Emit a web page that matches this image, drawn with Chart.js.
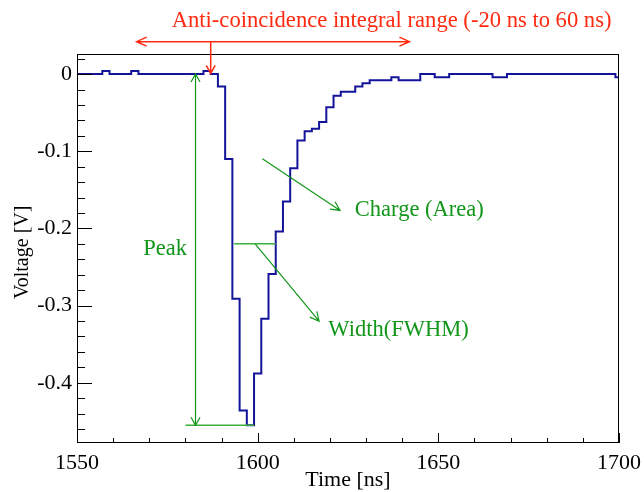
<!DOCTYPE html>
<html>
<head>
<meta charset="utf-8">
<title>PMT waveform</title>
<script src="https://cdn.jsdelivr.net/npm/chart.js@4.4.1/dist/chart.umd.min.js"></script>
<style>
  body { margin: 0; background: #fff; }
  #wrap { width: 644px; height: 492px; }
</style>
</head>
<body>
<div id="wrap"><canvas id="waveChart" width="644" height="492"></canvas></div>
<script>
// Digitised waveform: each level holds from its time up to the next time
const stepTimes = [1550, 1557, 1559, 1565, 1567, 1585, 1587, 1589, 1591, 1593,
                   1595, 1597, 1599, 1601, 1603, 1605, 1607, 1609, 1611, 1613,
                   1615, 1617, 1619, 1621, 1623, 1627, 1629, 1631, 1637, 1639,
                   1645, 1649, 1653, 1665, 1669, 1699, 1700];
const stepVolts = [0, 0.004, 0, 0.004, 0, 0.004, 0, -0.016, -0.110, -0.291,
                   -0.436, -0.455, -0.388, -0.317, -0.259, -0.204, -0.165, -0.122, -0.086, -0.074,
                   -0.071, -0.062, -0.043, -0.028, -0.023, -0.016, -0.012, -0.008, -0.004, -0.008,
                   0, -0.004, 0, -0.004, 0, -0.004, -0.004];

const xTicks = [1550, 1600, 1650, 1700];
const yTicks = [0, -0.1, -0.2, -0.3, -0.4];

const peakVolt = -0.455;
const fwhmVolt = -0.22;

const SERIF = "'Liberation Serif', 'Times New Roman', serif";
const GREEN = '#12961a';
const RED = '#ff2a10';

function arrowHead(ctx, x0, y0, x1, y1, len, half) {
    const a = Math.atan2(y1 - y0, x1 - x0);
    const c = Math.cos(a), s = Math.sin(a);
    ctx.moveTo(x1 - len * c + half * s, y1 - len * s - half * c);
    ctx.lineTo(x1, y1);
    ctx.lineTo(x1 - len * c - half * s, y1 - len * s + half * c);
}

// keep the plot box where the layout padding puts it
function noEdgePadding(s) {
    s.paddingLeft = 0;
    s.paddingRight = 0;
    s.paddingTop = 0;
    s.paddingBottom = 0;
}

// Inward ticks, frame box, y title and the labelled arrows
const frameAndNotes = {
    id: 'frameAndNotes',
    afterDatasetsDraw(chart) {
        const { ctx, chartArea: area, scales: { x, y } } = chart;
        const px = v => x.getPixelForValue(v);
        const py = v => y.getPixelForValue(v);
        ctx.save();

        ctx.strokeStyle = '#000';
        ctx.lineWidth = 1;
        ctx.beginPath();
        for (let t = 1550; t <= 1700; t += 10) {
            const tx = Math.round(px(t)) + 0.5;
            const len = t % 50 === 0 ? 10 : 5;
            ctx.moveTo(tx, area.bottom);
            ctx.lineTo(tx, area.bottom - len);
        }
        for (let i = -23; i <= 1; i++) {
            const ty = Math.round(py(i * 0.02)) + 0.5;
            const len = i % 5 === 0 ? 15 : 8;
            ctx.moveTo(area.left, ty);
            ctx.lineTo(area.left + len, ty);
        }
        ctx.stroke();
        ctx.strokeRect(Math.round(area.left) + 0.5, Math.round(area.top) + 0.5,
                       Math.round(area.right - area.left) - 1, Math.round(area.bottom - area.top) - 1);

        // y axis title, sitting a little below the middle of the axis
        ctx.save();
        ctx.translate(28, py(-0.231));
        ctx.rotate(-Math.PI / 2);
        ctx.fillStyle = '#000';
        ctx.font = '20px ' + SERIF;
        ctx.textAlign = 'center';
        ctx.textBaseline = 'alphabetic';
        ctx.fillText('Voltage [V]', 0, 0);
        ctx.restore();

        // red integration window
        ctx.strokeStyle = RED;
        ctx.lineWidth = 1.5;
        const ry = py(0.042);
        ctx.beginPath();
        ctx.moveTo(px(1566.5), ry);
        ctx.lineTo(px(1642), ry);
        arrowHead(ctx, px(1642), ry, px(1566.5), ry, 10, 4.5);
        arrowHead(ctx, px(1566.5), ry, px(1642), ry, 10, 4.5);
        ctx.moveTo(px(1587), ry);
        ctx.lineTo(px(1587), py(0.001));
        arrowHead(ctx, px(1587), ry, px(1587), py(0.001), 8, 4.5);
        ctx.stroke();

        ctx.fillStyle = RED;
        ctx.font = '22.6px ' + SERIF;
        ctx.textBaseline = 'alphabetic';
        ctx.textAlign = 'left';
        ctx.fillText('Anti-coincidence integral range (-20 ns to 60 ns)', px(1576.2), py(0.0615));

        // green: peak, width and charge
        ctx.strokeStyle = '#3cae3c';
        ctx.lineWidth = 1.5;
        ctx.beginPath();
        ctx.moveTo(px(1580), py(peakVolt));
        ctx.lineTo(px(1599), py(peakVolt));
        ctx.moveTo(px(1593.5), py(fwhmVolt));
        ctx.lineTo(px(1605), py(fwhmVolt));
        ctx.stroke();

        ctx.strokeStyle = GREEN;
        ctx.lineWidth = 1.2;
        ctx.beginPath();
        const peakX = px(1582.8);
        ctx.moveTo(peakX, py(0));
        ctx.lineTo(peakX, py(peakVolt));
        arrowHead(ctx, peakX, py(peakVolt), peakX, py(0), 8, 4.5);
        arrowHead(ctx, peakX, py(0), peakX, py(peakVolt), 8, 4.5);

        ctx.moveTo(px(1601.3), py(-0.1097));
        ctx.lineTo(px(1622.8), py(-0.1767));
        arrowHead(ctx, px(1601.3), py(-0.1097), px(1622.8), py(-0.1767), 9, 4.5);

        ctx.moveTo(px(1599.3), py(fwhmVolt));
        ctx.lineTo(px(1617), py(-0.3202));
        arrowHead(ctx, px(1599.3), py(fwhmVolt), px(1617), py(-0.3202), 9, 4.5);
        ctx.stroke();

        ctx.fillStyle = GREEN;
        ctx.font = '22.5px ' + SERIF;
        ctx.fillText('Peak', px(1568.35), py(-0.235));
        ctx.fillText('Charge (Area)', px(1626.9), py(-0.1845));
        ctx.fillText('Width(FWHM)', px(1619.55), py(-0.340));

        ctx.restore();
    }
};

new Chart(document.getElementById('waveChart'), {
    type: 'line',
    data: {
        datasets: [{
            data: stepTimes.map((t, i) => ({ x: t, y: stepVolts[i] })),
            stepped: 'before',
            borderColor: '#14149a',
            borderWidth: 2,
            pointRadius: 0,
            fill: false
        }]
    },
    options: {
        responsive: false,
        animation: false,
        devicePixelRatio: 1,
        layout: { padding: { left: 0, right: 25, top: 54, bottom: 0 } },
        plugins: { legend: { display: false }, tooltip: { enabled: false } },
        scales: {
            x: {
                type: 'linear',
                min: 1550,
                max: 1700,
                grid: { display: false, drawTicks: false },
                border: { display: false },
                afterBuildTicks: s => { s.ticks = xTicks.map(v => ({ value: v })); },
                afterFit: s => { s.height = 49; noEdgePadding(s); },
                ticks: {
                    font: { family: SERIF, size: 22 },
                    color: '#000',
                    padding: 7,
                    maxRotation: 0,
                    autoSkip: false,
                    callback: v => String(v)
                },
                title: {
                    display: true,
                    text: 'Time [ns]',
                    color: '#000',
                    font: { family: SERIF, size: 22, lineHeight: 1 },
                    padding: { top: 0, bottom: 1 }
                }
            },
            y: {
                min: -0.478,
                max: 0.026,
                grid: { display: false, drawTicks: false },
                border: { display: false },
                afterBuildTicks: s => { s.ticks = yTicks.map(v => ({ value: v })); },
                afterFit: s => { s.width = 77; noEdgePadding(s); },
                ticks: {
                    font: { family: SERIF, size: 22 },
                    color: '#000',
                    padding: 5,
                    autoSkip: false,
                    callback: v => Math.abs(v) < 1e-9 ? '0' : v.toFixed(1)
                }
            }
        }
    },
    plugins: [frameAndNotes]
});
</script>
</body>
</html>
